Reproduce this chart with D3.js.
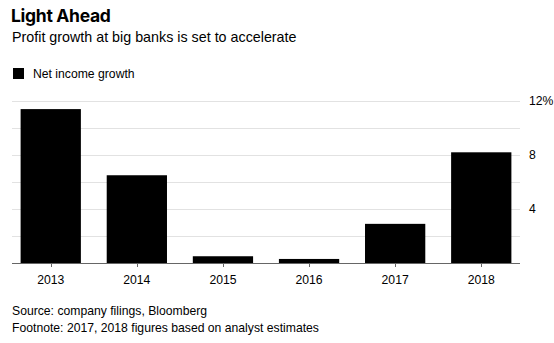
<!DOCTYPE html>
<html>
<head>
<meta charset="utf-8">
<script src="https://cdn.jsdelivr.net/npm/d3@7"></script>
<style>
  body { margin: 0; background: #fff; }
  text { font-family: "Liberation Sans", Arial, sans-serif; }
</style>
</head>
<body>
<div id="chart"></div>
<script>
// chart data
var years = ["2013", "2014", "2015", "2016", "2017", "2018"];
var growth = [11.4, 6.5, 0.5, 0.3, 2.9, 8.2];
var gridValues = [0, 2, 4, 6, 8, 10, 12];
var tickLabels = [{ v: 12, t: "12%" }, { v: 8, t: "8" }, { v: 4, t: "4" }];

var width = 554, height = 343;

var svg = d3.select("#chart").append("svg")
    .attr("width", width)
    .attr("height", height);

// scales
var x = d3.scaleBand()
    .domain(years)
    .range([12, 520])
    .paddingInner(0.3)
    .paddingOuter(0.1);

var y = d3.scaleLinear()
    .domain([0, 12])
    .range([263, 101]);

// title + subtitle
svg.append("text")
    .attr("x", 11)
    .attr("y", 22)
    .style("font-family", "Inter, 'Liberation Sans', sans-serif")
    .style("font-weight", 700)
    .style("font-size", "17.5px")
    .style("letter-spacing", "-0.3px")
    .style("fill", "#000")
    .text("Light Ahead");

svg.append("text")
    .attr("x", 12)
    .attr("y", 42)
    .style("font-size", "14.3px")
    .style("fill", "#000")
    .text("Profit growth at big banks is set to accelerate");

// legend
svg.append("rect")
    .attr("x", 13)
    .attr("y", 68)
    .attr("width", 11)
    .attr("height", 11)
    .attr("fill", "#000");

svg.append("text")
    .attr("x", 33)
    .attr("y", 78)
    .style("font-size", "12.2px")
    .style("fill", "#000")
    .text("Net income growth");

// gridlines
svg.selectAll(".grid")
    .data(gridValues.filter(function(d) { return d > 0; }))
    .enter()
    .append("line")
    .attr("class", "grid")
    .attr("x1", 12)
    .attr("x2", 520)
    .attr("y1", function(d) { return y(d) + 0.5; })
    .attr("y2", function(d) { return y(d) + 0.5; })
    .attr("stroke", "#e2e2e2")
    .attr("stroke-width", 1);

// bars
svg.selectAll(".bar")
    .data(growth)
    .enter()
    .append("rect")
    .attr("class", "bar")
    .attr("x", function(d, i) { return x(years[i]); })
    .attr("y", function(d) { return y(d); })
    .attr("width", x.bandwidth())
    .attr("height", function(d) { return y(0) - y(d); })
    .attr("fill", "#000");

// baseline
svg.append("line")
    .attr("x1", 12)
    .attr("x2", 520)
    .attr("y1", y(0) + 0.5)
    .attr("y2", y(0) + 0.5)
    .attr("stroke", "#666")
    .attr("stroke-width", 1);

// x axis ticks + labels
svg.selectAll(".xtick")
    .data(years)
    .enter()
    .append("line")
    .attr("class", "xtick")
    .attr("x1", function(d) { return Math.round(x(d) + x.bandwidth() / 2) + 0.5; })
    .attr("x2", function(d) { return Math.round(x(d) + x.bandwidth() / 2) + 0.5; })
    .attr("y1", y(0))
    .attr("y2", y(0) + 4)
    .attr("stroke", "#666");

svg.selectAll(".xlabel")
    .data(years)
    .enter()
    .append("text")
    .attr("class", "xlabel")
    .attr("x", function(d) { return x(d) + x.bandwidth() / 2; })
    .attr("y", 284)
    .style("text-anchor", "middle")
    .style("font-size", "12.2px")
    .style("fill", "#000")
    .text(function(d) { return d; });

// y labels on the right
svg.selectAll(".ylabel")
    .data(tickLabels)
    .enter()
    .append("text")
    .attr("class", "ylabel")
    .attr("x", 529)
    .attr("y", function(d) { return y(d.v) + 4; })
    .style("font-size", "12.2px")
    .style("fill", "#000")
    .text(function(d) { return d.t; });

// source + footnote
svg.append("text")
    .attr("x", 12)
    .attr("y", 315)
    .style("font-size", "12.2px")
    .style("fill", "#000")
    .text("Source: company filings, Bloomberg");

svg.append("text")
    .attr("x", 12)
    .attr("y", 332)
    .style("font-size", "12.2px")
    .style("fill", "#000")
    .text("Footnote: 2017, 2018 figures based on analyst estimates");
</script>
</body>
</html>
